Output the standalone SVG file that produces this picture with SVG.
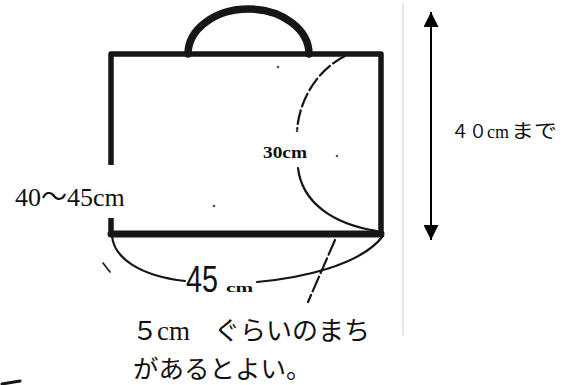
<svg xmlns="http://www.w3.org/2000/svg" width="573" height="385" viewBox="0 0 573 385">
<defs>
<style>
.ink{fill:none;stroke:#161616;stroke-linecap:round;stroke-linejoin:round}
.thick{stroke-width:5.5}
.thin{stroke-width:2.2}
.dot{fill:#555}
.serif{font-family:"Liberation Serif","Noto Sans CJK JP",serif;fill:#111}
.jp{font-family:"Noto Sans CJK JP",sans-serif;fill:#111}
</style>
<marker id="ah" viewBox="0 0 15 15" refX="15" refY="7.5" markerUnits="userSpaceOnUse" markerWidth="15" markerHeight="15" orient="auto-start-reverse">
<path d="M0,0 L15,7.5 L0,15 z" fill="#000"/>
</marker>
</defs>
<rect width="573" height="385" fill="#fff"/>
<line x1="403" y1="3" x2="403" y2="335" stroke="#e6e6e6" stroke-width="2"/>
<g id="bag">
<path id="handle" class="ink" d="M188,54 A60.5,45 0 0 1 309,54" stroke-width="7.5"/>
<path class="ink thick" d="M111,54 L381,54 L381,233 M111,54 L111,233"/>
<path class="ink" d="M111,234 L381,234" stroke-width="7"/>
<path id="gusset" class="ink" d="M345,56 C317,70 299,100 297,131" stroke-width="2.2" stroke-dasharray="14 4"/>
<path class="ink thin" d="M298,168 C302,202 332,224 377,231"/>
<circle class="dot" cx="278" cy="67" r="1.3"/>
<circle class="dot" cx="337" cy="156" r="1.3"/>
<circle class="dot" cx="214" cy="206" r="1.3"/>
<circle class="dot" cx="297" cy="130" r="1.2"/>
</g>
<g id="bottom">
<path class="ink thin" d="M112,236 C114,258 140,276 185,281"/>
<path class="ink thin" d="M257,282 C300,278 360,266 383,236"/>
<path class="ink thin" d="M335,240 L308,302" stroke-dasharray="16 4"/>
<path class="ink" d="M103,263 L110,272" stroke-width="1.6"/>
<text x="186" y="292" font-size="36" font-family="Liberation Sans" fill="#111" textLength="32" lengthAdjust="spacingAndGlyphs">45</text>
<text class="serif" x="226" y="292" font-size="13" font-weight="bold" textLength="27" lengthAdjust="spacingAndGlyphs">cm</text>
</g>
<text id="l30" class="serif" x="263" y="158" font-size="17" font-weight="bold" textLength="44" lengthAdjust="spacingAndGlyphs">30cm</text>
<g id="width-label">
<rect x="0" y="165" width="118" height="53" fill="#fff"/>
<text class="serif" x="15" y="206" font-size="26">40〜45cm</text>
</g>
<g id="connectors">
<line x1="431" y1="12" x2="431" y2="240" stroke="#000" stroke-width="2" marker-start="url(#ah)" marker-end="url(#ah)"/>
</g>
<g id="height-label">
<text class="jp" x="451" y="138" font-size="18">４</text>
<text class="jp" x="469" y="138" font-size="18">０</text>
<text class="serif" x="487" y="138" font-size="18">cm</text>
<text class="jp" x="511" y="138" font-size="19" textLength="46" lengthAdjust="spacingAndGlyphs">まで</text>
</g>
<g id="note">
<text class="jp" x="132" y="340" font-size="26">５</text>
<text class="serif" x="157" y="340" font-size="27">cm</text>
<text class="jp" x="214" y="340" font-size="26">ぐらいのまち</text>
<text class="jp" x="133" y="378" font-size="25.5">があるとよい。</text>
</g>
<path class="ink" d="M2,384 L20,381" stroke-width="3"/>
</svg>
